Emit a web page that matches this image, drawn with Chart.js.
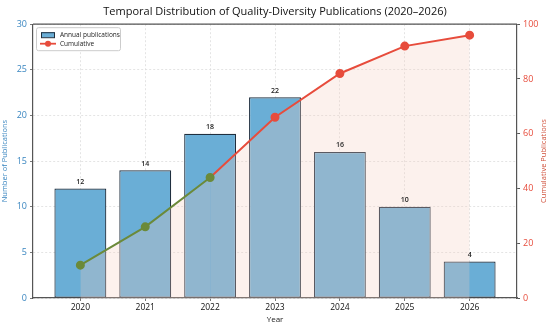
<!DOCTYPE html>
<html>
<head>
<meta charset="utf-8">
<script src="https://cdn.jsdelivr.net/npm/chart.js@4.4.1/dist/chart.umd.min.js"></script>
<style>
  html, body { margin: 0; padding: 0; background: #fff; }
  #wrap { width: 550px; height: 325px; }
</style>
</head>
<body>
<div id="wrap"><canvas id="chart"></canvas></div>
<script>
const years = ['2020', '2021', '2022', '2023', '2024', '2025', '2026'];
const annual = [12, 14, 18, 22, 16, 10, 4];
const cumulative = [12, 26, 44, 66, 82, 92, 96];
const leftTicks = [0, 5, 10, 15, 20, 25, 30];
const rightTicks = [0, 20, 40, 60, 80, 100];

const FONT = "'Open Sans', 'DejaVu Sans', sans-serif";
const BLUE_TXT = '#3a86c0';
const RED = '#e74c3c';
const OLIVE = '#6b8a3a';

// top spine plus the right axis title (reads bottom to top, like matplotlib)
const frame = {
  id: 'frame',
  afterDraw(chart) {
    const { ctx, chartArea: a } = chart;
    ctx.save();
    ctx.strokeStyle = '#555';
    ctx.lineWidth = 1.2;
    ctx.beginPath();
    ctx.moveTo(a.left, a.top);
    ctx.lineTo(a.right, a.top);
    ctx.stroke();

    ctx.translate(chart.width - 6, (a.top + a.bottom) / 2);
    ctx.rotate(-Math.PI / 2);
    ctx.font = `7.5px ${FONT}`;
    ctx.fillStyle = '#d0503a';
    ctx.textAlign = 'center';
    ctx.textBaseline = 'middle';
    ctx.fillText('Cumulative Publications', 0, 0);
    ctx.restore();
  }
};

// value labels over the bars
const barLabels = {
  id: 'barLabels',
  afterDatasetsDraw(chart) {
    const { ctx } = chart;
    const meta = chart.getDatasetMeta(1);
    ctx.save();
    ctx.font = `600 7px ${FONT}`;
    ctx.fillStyle = '#222';
    ctx.textAlign = 'center';
    ctx.textBaseline = 'bottom';
    meta.data.forEach((bar, i) => {
      ctx.fillText(String(annual[i]), bar.x, bar.y - 3);
    });
    ctx.restore();
  }
};

// legend box in the upper left corner of the plot
const innerLegend = {
  id: 'innerLegend',
  afterDraw(chart) {
    const { ctx, chartArea: a } = chart;
    const x = a.left + 3, y = a.top + 3, w = 84, h = 23;
    ctx.save();
    ctx.fillStyle = 'rgba(255,255,255,0.9)';
    ctx.strokeStyle = '#ccc';
    ctx.lineWidth = 1;
    ctx.beginPath();
    ctx.roundRect(x + 0.5, y + 0.5, w, h, 2);
    ctx.fill();
    ctx.stroke();
    // bar swatch
    ctx.fillStyle = '#6aaed6';
    ctx.strokeStyle = '#1f2f3f';
    ctx.fillRect(x + 5, y + 5, 14, 5);
    ctx.strokeRect(x + 5.5, y + 5.5, 13, 5);
    // line swatch
    ctx.strokeStyle = RED;
    ctx.lineWidth = 1.8;
    ctx.beginPath();
    ctx.moveTo(x + 4, y + 16.5);
    ctx.lineTo(x + 20, y + 16.5);
    ctx.stroke();
    ctx.fillStyle = RED;
    ctx.beginPath();
    ctx.arc(x + 12, y + 16.5, 3, 0, Math.PI * 2);
    ctx.fill();
    ctx.fillStyle = '#222';
    ctx.font = `6.5px ${FONT}`;
    ctx.textBaseline = 'middle';
    ctx.fillText('Annual publications', x + 24, y + 8);
    ctx.fillText('Cumulative', x + 24, y + 17);
    ctx.restore();
  }
};

const pointColors = cumulative.map((_, i) => (i <= 2 ? OLIVE : RED));

new Chart(document.getElementById('chart'), {
  type: 'bar',
  data: {
    datasets: [
      {
        type: 'line',
        label: 'Cumulative',
        data: cumulative.map((v, i) => ({ x: i, y: v })),
        yAxisID: 'y2',
        borderColor: RED,
        borderWidth: 2,
        pointRadius: 3.5,
        pointBackgroundColor: pointColors,
        pointBorderColor: pointColors,
        fill: 'origin',
        backgroundColor: 'rgba(246,205,192,0.28)',
        tension: 0,
        order: 0,
        segment: {
          borderColor: ctx => (ctx.p1DataIndex <= 2 ? OLIVE : RED)
        }
      },
      {
        type: 'bar',
        label: 'Annual publications',
        data: annual.map((v, i) => ({ x: i, y: v })),
        yAxisID: 'y',
        backgroundColor: '#6aaed6',
        borderColor: '#1f2f3f',
        borderWidth: 1.2,
        borderSkipped: false,
        barPercentage: 0.8,
        categoryPercentage: 1.0,
        order: 1
      }
    ]
  },
  options: {
    responsive: true,
    maintainAspectRatio: false,
    animation: false,
    layout: { padding: 0 },
    plugins: {
      legend: { display: false },
      tooltip: { enabled: false },
      title: {
        display: true,
        text: 'Temporal Distribution of Quality-Diversity Publications (2020–2026)',
        color: '#111',
        font: { family: FONT, size: 11, weight: '500' },
        padding: { top: 5, bottom: 6 }
      }
    },
    scales: {
      x: {
        type: 'linear',
        min: -0.73,
        max: 6.73,
        offset: false,
        afterBuildTicks: s => { s.ticks = years.map((_, i) => ({ value: i })); },
        afterFit: s => { s.height = 27; },
        ticks: {
          callback: v => years[v],
          color: '#111',
          font: { family: FONT, size: 8.5, weight: '500' },
          padding: 1,
          maxRotation: 0,
          autoSkip: false
        },
        grid: {
          offset: false,
          color: '#ddd',
          lineWidth: 0.8,
          tickColor: '#555',
          tickLength: 3,
          tickBorderDash: []
        },
        border: { color: '#555', width: 1.2, dash: [2, 2] },
        title: {
          display: true,
          text: 'Year',
          color: '#222',
          font: { family: FONT, size: 8 },
          padding: { top: 0, bottom: 0 }
        }
      },
      y: {
        position: 'left',
        min: 0,
        max: 30,
        afterBuildTicks: s => { s.ticks = leftTicks.map(v => ({ value: v })); },
        afterFit: s => { s.width = 33; },
        ticks: {
          color: BLUE_TXT,
          font: { family: FONT, size: 9 },
          padding: 3
        },
        grid: {
          color: '#ddd',
          lineWidth: 0.8,
          tickColor: '#555',
          tickLength: 3,
          tickBorderDash: []
        },
        border: { color: '#555', width: 1.2, dash: [2, 2] },
        title: {
          display: true,
          text: 'Number of Publications',
          color: BLUE_TXT,
          font: { family: FONT, size: 7.5 },
          padding: { top: 0, bottom: 1 }
        }
      },
      y2: {
        position: 'right',
        min: 0,
        max: 100,
        afterBuildTicks: s => { s.ticks = rightTicks.map(v => ({ value: v })); },
        afterFit: s => { s.width = 33; },
        ticks: {
          color: RED,
          font: { family: FONT, size: 9 },
          padding: 3
        },
        grid: {
          drawOnChartArea: false,
          tickColor: '#555',
          tickLength: 3
        },
        border: { color: '#555', width: 1.2 }
      }
    }
  },
  plugins: [frame, barLabels, innerLegend]
});
</script>
</body>
</html>
